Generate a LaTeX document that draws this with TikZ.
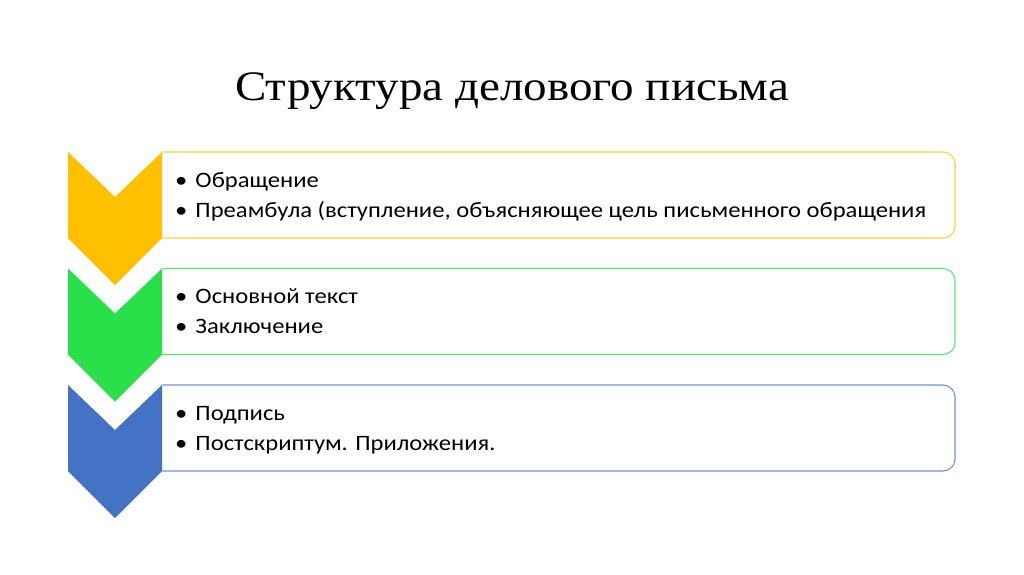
\documentclass[tikz,border=0pt]{standalone}
\usepackage{fontspec}
\setmainfont{Carlito}[FakeStretch=1.12]
\newfontfamily\titlefont{Liberation Serif}[FakeStretch=1.12]
\definecolor{cyellow}{HTML}{FFC000}
\definecolor{cgreen}{HTML}{2AE04A}
\definecolor{cblue}{HTML}{4472C4}
\definecolor{byellow}{HTML}{FFD044}
\definecolor{bgreen}{HTML}{5DE56F}
\definecolor{bblue}{HTML}{7393D3}
\begin{document}
\begin{tikzpicture}[x=1pt,y=-1pt, line join=round,
	itemtext/.style={anchor=base west, inner sep=0pt, font=\fontsize{22}{26}\selectfont}]
	\def\xl{68} \def\xm{115} \def\xr{162} \def\xe{955} % Chevron, box
	\def\h{86} \def\d{45}
	\useasboundingbox (0,0) rectangle (1024,574);
	\node[anchor=base, inner sep=0pt, font=\titlefont\fontsize{42}{50}\selectfont] (title) at (512,100) {Структура делового письма};
	\foreach \i/\t/\col/\one/\two in {1/152/yellow/{Обращение}/{Преамбула (вступление, объясняющее цель письменного обращения},
		2/268.5/green/{Основной текст}/{Заключение},
		3/385/blue/{Подпись}/{Постскриптум. Приложения.}}{
		\draw[b\col, line width=1.1pt, rounded corners=12pt] (\xr,\t) -- (\xe,\t) -- (\xe,\t+\h) -- (\xr,\t+\h);
		\fill[c\col] (\xl,\t) -- (\xm,\t+\d) -- (\xr,\t) -- (\xr,\t+\h) -- (\xm,\t+\h+47) -- (\xl,\t+\h) -- cycle;
		\node[itemtext] (a\i) at (175,\t+35) {•\hspace{8pt}\one};
		\node[itemtext] (b\i) at (175,\t+65) {•\hspace{8pt}\two};
	}
\end{tikzpicture}
\end{document}
